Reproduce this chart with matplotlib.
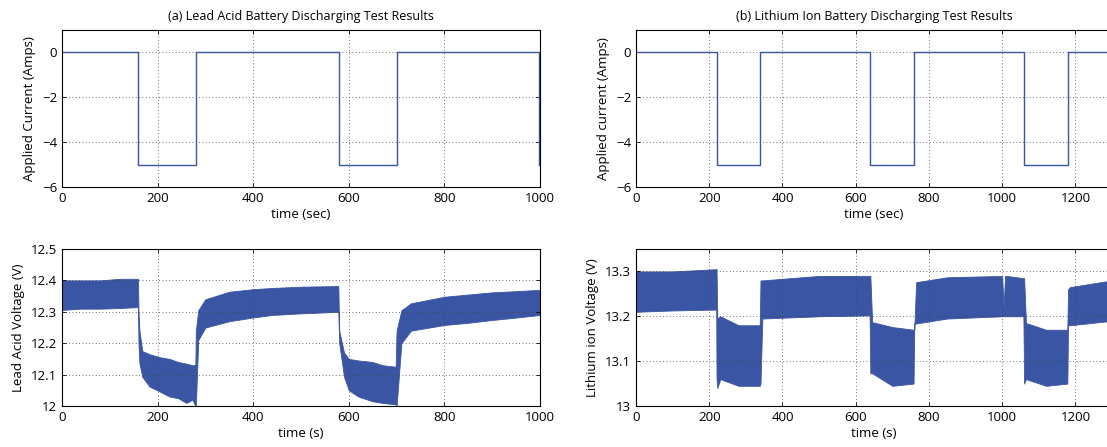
import numpy as np
import matplotlib
matplotlib.use("Agg")
import matplotlib.pyplot as plt
from matplotlib.ticker import FormatStrFormatter

plt.rcParams['font.family'] = ['Open Sans', 'DejaVu Sans']
plt.rcParams['font.size'] = 9.5

BLUE = '#3a55a4'

# applied current step profiles (time, amps)
lead_t = [0, 160, 160, 280, 280, 580, 580, 700, 700, 998, 998]
lead_i = [0, 0, -5, -5, 0, 0, -5, -5, 0, 0, -5]
li_t = [0, 220, 220, 340, 340, 640, 640, 760, 760, 1060, 1060, 1180, 1180, 1300]
li_i = [0, 0, -5, -5, 0, 0, -5, -5, 0, 0, -5, -5, 0, 0]

# lead acid voltage envelope (noisy band): time, upper, lower
lead_vt = [0, 40, 80, 120, 159, 160, 162, 168, 183, 206, 225, 243, 260, 273, 279,
           280, 285, 300, 350, 400, 440, 500, 578,
           580, 590, 600, 620, 650, 670, 698,
           700, 710, 730, 800, 850, 900, 940, 1000]
lead_vu = [12.40, 12.40, 12.40, 12.405, 12.405, 12.30, 12.24, 12.175, 12.165, 12.155, 12.15, 12.14, 12.135, 12.13, 12.13,
           12.24, 12.305, 12.34, 12.364, 12.372, 12.376, 12.38, 12.382,
           12.24, 12.17, 12.15, 12.145, 12.14, 12.13, 12.125,
           12.24, 12.305, 12.327, 12.348, 12.355, 12.362, 12.365, 12.37]
lead_vl = [12.306, 12.31, 12.31, 12.312, 12.315, 12.20, 12.136, 12.093, 12.062, 12.045, 12.03, 12.025, 12.01, 12.02, 12.0,
           12.0, 12.21, 12.25, 12.27, 12.282, 12.29, 12.295, 12.30,
           12.20, 12.093, 12.05, 12.03, 12.015, 12.01, 12.005,
           12.0, 12.2, 12.24, 12.258, 12.265, 12.274, 12.28, 12.29]

# lithium ion voltage envelope: time, upper, lower
li_vt = [0, 100, 219, 220, 222, 230, 280, 338,
         340, 345, 500, 638,
         640, 645, 700, 758,
         760, 765, 850, 1000, 1004, 1008, 1012, 1058,
         1060, 1065, 1120, 1178,
         1180, 1185, 1300]
li_vu = [13.30, 13.30, 13.305, 13.305, 13.195, 13.20, 13.18, 13.18,
         13.28, 13.28, 13.29, 13.29,
         13.29, 13.187, 13.176, 13.17,
         13.17, 13.276, 13.287, 13.29, 13.22, 13.29, 13.29, 13.285,
         13.285, 13.185, 13.17, 13.17,
         13.26, 13.265, 13.28]
li_vl = [13.21, 13.213, 13.215, 13.06, 13.04, 13.06, 13.045, 13.045,
         13.05, 13.195, 13.2, 13.202,
         13.073, 13.073, 13.045, 13.05,
         13.184, 13.184, 13.195, 13.2, 13.2, 13.2, 13.2, 13.2,
         13.05, 13.06, 13.045, 13.05,
         13.18, 13.18, 13.19]

fig = plt.figure(figsize=(11.07, 4.47), dpi=100)

def style(ax):
    ax.tick_params(direction='in', top=True, right=True, length=3, width=0.6)
    ax.grid(True, linestyle=(0, (1, 3)), color='#444444', linewidth=0.6)
    for s in ax.spines.values():
        s.set_linewidth(0.8)

# pixel-based placement: left, right, top, bottom in the 1107x447 canvas
def place(l, r, t, b):
    return [l / 1107, 1 - b / 447, (r - l) / 1107, (b - t) / 447]

ax1 = fig.add_axes(place(62, 540, 30, 187))
ax1.plot(lead_t, lead_i, color=BLUE, linewidth=1.0)
ax1.set_xlim(0, 1000)
ax1.set_ylim(-6, 1)
ax1.set_yticks([-6, -4, -2, 0])
ax1.set_xlabel('time (sec)', labelpad=2)
ax1.set_ylabel('Applied Current (Amps)')
ax1.set_title('(a) Lead Acid Battery Discharging Test Results', fontsize=9, pad=7)
style(ax1)

ax2 = fig.add_axes(place(636, 1112, 30, 187))
ax2.plot(li_t, li_i, color=BLUE, linewidth=1.0)
ax2.set_xlim(0, 1300)
ax2.set_ylim(-6, 1)
ax2.set_xticks([0, 200, 400, 600, 800, 1000, 1200])
ax2.set_yticks([-6, -4, -2, 0])
ax2.set_xlabel('time (sec)', labelpad=2)
ax2.set_ylabel('Applied current (Amps)')
ax2.set_title('(b) Lithium Ion Battery Discharging Test Results', fontsize=9, pad=7)
style(ax2)

ax3 = fig.add_axes(place(62, 540, 249, 406))
ax3.fill_between(lead_vt, lead_vl, lead_vu, color=BLUE, linewidth=0.6, edgecolor=BLUE)
ax3.set_xlim(0, 1000)
ax3.set_ylim(12, 12.5)
ax3.yaxis.set_major_formatter(FormatStrFormatter('%g'))
ax3.set_xlabel('time (s)', labelpad=2)
ax3.set_ylabel('Lead Acid Voltage (V)')
style(ax3)

ax4 = fig.add_axes(place(636, 1112, 249, 406))
ax4.fill_between(li_vt, li_vl, li_vu, color=BLUE, linewidth=0.6, edgecolor=BLUE)
ax4.set_xlim(0, 1300)
ax4.set_ylim(13, 13.35)
ax4.set_xticks([0, 200, 400, 600, 800, 1000, 1200])
ax4.set_yticks([13, 13.1, 13.2, 13.3])
ax4.yaxis.set_major_formatter(FormatStrFormatter('%g'))
ax4.set_xlabel('time (s)', labelpad=2)
ax4.set_ylabel('Lithium ion Voltage (V)')
style(ax4)

fig.savefig('out.png', dpi=100)
